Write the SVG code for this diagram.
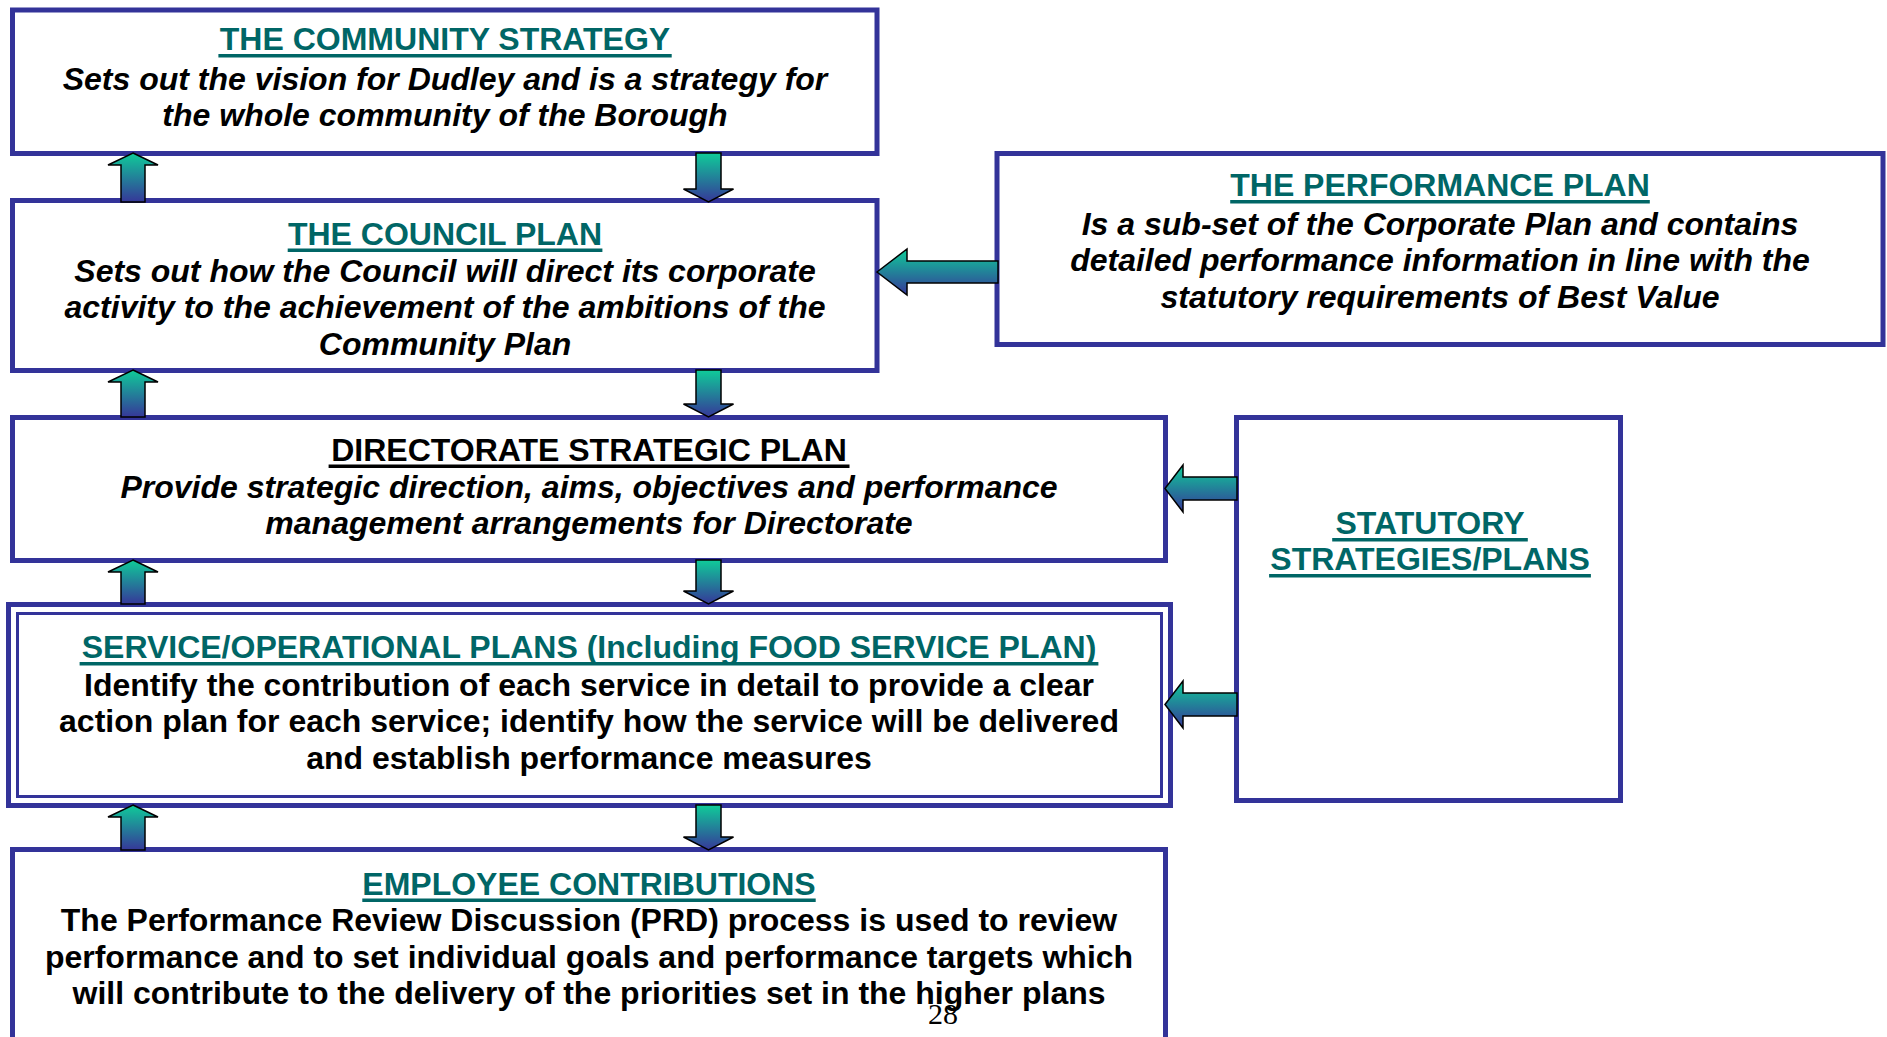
<svg xmlns="http://www.w3.org/2000/svg" width="1887" height="1037" viewBox="0 0 1887 1037">
<defs>
<linearGradient id="arrowGrad" x1="0" y1="0" x2="0" y2="1">
<stop offset="0" stop-color="#0FCC99"/>
<stop offset="1" stop-color="#363799"/>
</linearGradient>
<style>
.box{fill:#FFFFFF;stroke:#333399;stroke-width:5}
.inner{fill:none;stroke:#333399;stroke-width:3}
.arrow{fill:url(#arrowGrad);stroke:#000000;stroke-width:1.5;stroke-linejoin:miter}
text{font-family:"Liberation Sans",Arial,sans-serif;font-size:32px;font-weight:bold;text-anchor:middle}
.head{fill:#006666}
.headk{fill:#000000}
.body{fill:#000000}
.it{font-style:italic}
.ul{fill:#006666}
.ulk{fill:#000000}
.page{font-family:"Liberation Serif","Times New Roman",serif;font-weight:normal;font-size:30px;fill:#000000}
</style>
</defs>
<rect width="1887" height="1037" fill="#FFFFFF"/>

<g id="community-strategy">
<rect class="box" x="12.5" y="10" width="864.5" height="143.5"/>
<text class="head" x="445" y="50">THE COMMUNITY STRATEGY</text>
<rect class="ul" x="218.4" y="54" width="453.3" height="3.5"/>
<text class="body it" x="445" y="89.5">Sets out the vision for Dudley and is a strategy for</text>
<text class="body it" x="445" y="125.5">the whole community of the Borough</text>
</g>

<g id="council-plan">
<rect class="box" x="12.5" y="200.5" width="864.5" height="170"/>
<text class="head" x="445" y="244.5">THE COUNCIL PLAN</text>
<rect class="ul" x="287.7" y="248.5" width="314.7" height="3.5"/>
<text class="body it" x="445" y="281.5">Sets out how the Council will direct its corporate</text>
<text class="body it" x="445" y="318">activity to the achievement of the ambitions of the</text>
<text class="body it" x="445" y="354.5">Community Plan</text>
</g>

<g id="performance-plan">
<rect class="box" x="997" y="153.5" width="886" height="191"/>
<text class="head" x="1440" y="196">THE PERFORMANCE PLAN</text>
<rect class="ul" x="1230.2" y="200" width="419.6" height="3.5"/>
<text class="body it" x="1440" y="234.5">Is a sub-set of the Corporate Plan and contains</text>
<text class="body it" x="1440" y="270.5">detailed performance information in line with the</text>
<text class="body it" x="1440" y="307.5">statutory requirements of Best Value</text>
</g>

<g id="directorate-plan">
<rect class="box" x="12.5" y="417.5" width="1153" height="143"/>
<text class="headk" x="589" y="460.5">DIRECTORATE STRATEGIC PLAN</text>
<rect class="ulk" x="328.6" y="464.5" width="520.9" height="3.5"/>
<text class="body it" x="589" y="498">Provide strategic direction, aims, objectives and performance</text>
<text class="body it" x="589" y="534">management arrangements for Directorate</text>
</g>

<g id="service-plans">
<rect class="box" x="8.5" y="604.5" width="1162" height="201"/>
<rect class="inner" x="17.5" y="613.5" width="1144" height="183"/>
<text class="head" x="589" y="658">SERVICE/OPERATIONAL PLANS (Including FOOD SERVICE PLAN)</text>
<rect class="ul" x="79.6" y="662" width="1018.8" height="3.5"/>
<text class="body" x="589" y="695.5">Identify the contribution of each service in detail to provide a clear</text>
<text class="body" x="589" y="732">action plan for each service; identify how the service will be delivered</text>
<text class="body" x="589" y="768.5">and establish performance measures</text>
</g>

<g id="employee-contributions">
<rect class="box" x="12.5" y="849.5" width="1153" height="220"/>
<text class="head" x="589" y="894.5">EMPLOYEE CONTRIBUTIONS</text>
<rect class="ul" x="362.3" y="898.5" width="453.4" height="3.5"/>
<text class="body" x="589" y="931">The Performance Review Discussion (PRD) process is used to review</text>
<text class="body" x="589" y="967.5">performance and to set individual goals and performance targets which</text>
<text class="body" x="589" y="1004">will contribute to the delivery of the priorities set in the higher plans</text>
</g>

<g id="statutory-strategies">
<rect class="box" x="1236.5" y="417.5" width="384" height="383"/>
<text class="head" x="1430" y="534">STATUTORY</text>
<rect class="ul" x="1332.2" y="538" width="195.6" height="3.5"/>
<text class="head" x="1430" y="570">STRATEGIES/PLANS</text>
<rect class="ul" x="1269.1" y="574" width="321.8" height="3.5"/>
</g>

<g id="connectors">
<polygon class="arrow" points="133,153 158,165 145,165 145,202 121,202 121,165 108,165"/>
<polygon class="arrow" points="696,153 721,153 721,189 733.5,189 708.5,202 683.5,189 696,189"/>
<polygon class="arrow" points="133,370 158,382 145,382 145,417 121,417 121,382 108,382"/>
<polygon class="arrow" points="696,370 721,370 721,404 733.5,404 708.5,417 683.5,404 696,404"/>
<polygon class="arrow" points="133,560 158,572 145,572 145,604 121,604 121,572 108,572"/>
<polygon class="arrow" points="696,560 721,560 721,591 733.5,591 708.5,604 683.5,591 696,591"/>
<polygon class="arrow" points="133,805 158,817 145,817 145,850 121,850 121,817 108,817"/>
<polygon class="arrow" points="696,805 721,805 721,837 733.5,837 708.5,850 683.5,837 696,837"/>
<polygon class="arrow" points="877,272 907,249 907,261 998,261 998,283 907,283 907,295"/>
<polygon class="arrow" points="1165,488.5 1183,465 1183,477 1237,477 1237,500 1183,500 1183,512"/>
<polygon class="arrow" points="1165,704.5 1183,681 1183,693 1237,693 1237,716 1183,716 1183,728"/>
</g>

<text class="page" x="943" y="1024">28</text>
</svg>
